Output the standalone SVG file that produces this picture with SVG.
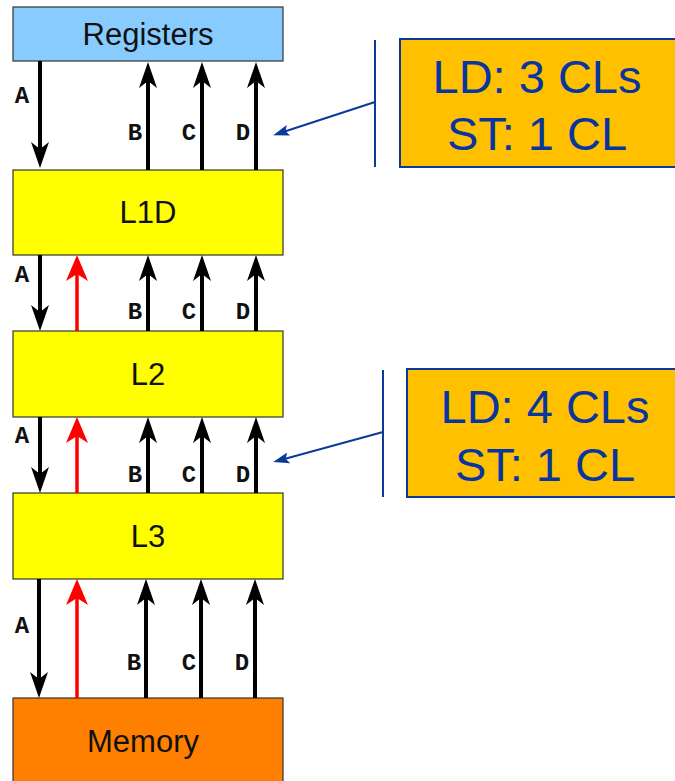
<svg xmlns="http://www.w3.org/2000/svg" width="675" height="781" viewBox="0 0 675 781">
<style>
.box{stroke:#333;stroke-width:1.2}
.name{font-family:"Liberation Sans",Arial,sans-serif;font-size:31px;fill:#111;text-anchor:middle}
.lbl{font-family:"Liberation Mono","Courier New",monospace;font-weight:bold;font-size:24px;fill:#111;text-anchor:middle}
.blk{stroke:#000;stroke-width:4;fill:none;marker-end:url(#hb)}
.red{stroke:#f00;stroke-width:3.5;fill:none;marker-end:url(#hr)}
.call{fill:#FFC000;stroke:#0B3A9A;stroke-width:2}
.ctext{font-family:"Liberation Sans",Arial,sans-serif;font-size:47px;fill:#0835A0;text-anchor:middle}
.bl{stroke:#0B3A9A;stroke-width:2;fill:none}
.ba{stroke:#0B3A9A;stroke-width:2;fill:none;marker-end:url(#hblue)}
</style>
<defs>
<marker id="hb" markerUnits="userSpaceOnUse" viewBox="0 -10 26 20" refX="16" refY="0" markerWidth="26" markerHeight="20" orient="auto"><path d="M0,-9 L26,0 L0,9 L7,0 z" fill="#000"/></marker>
<marker id="hr" markerUnits="userSpaceOnUse" viewBox="0 -12 26 24" refX="16" refY="0" markerWidth="26" markerHeight="24" orient="auto"><path d="M0,-11 L26,0 L0,11 L7,0 z" fill="#f00"/></marker>
<marker id="hblue" markerUnits="userSpaceOnUse" viewBox="0 -6 16 12" refX="12" refY="0" markerWidth="16" markerHeight="12" orient="auto"><path d="M0,-5.5 L16,0 L0,5.5 L3,0 z" fill="#0B3A9A"/></marker>
</defs>

<g id="registers"><rect class="box" x="13" y="7" width="270" height="54" fill="#88CCFF"/><text class="name" x="148" y="45">Registers</text></g>
<g id="l1d"><rect class="box" x="13" y="170" width="270" height="85" fill="#FFFF00"/><text class="name" x="148" y="223">L1D</text></g>
<g id="l2"><rect class="box" x="13" y="331" width="270" height="86" fill="#FFFF00"/><text class="name" x="148" y="385">L2</text></g>
<g id="l3"><rect class="box" x="13" y="493" width="270" height="86" fill="#FFFF00"/><text class="name" x="148" y="547">L3</text></g>
<g id="memory"><rect class="box" x="13" y="698" width="270" height="90" fill="#FF8000"/><text class="name" x="143" y="752">Memory</text></g>

<g id="connectors">
<line class="blk" x1="40" y1="61" x2="40" y2="158"/>
<line class="blk" x1="148" y1="170" x2="148" y2="72"/>
<line class="blk" x1="202" y1="170" x2="202" y2="72"/>
<line class="blk" x1="256" y1="170" x2="256" y2="72"/>

<line class="blk" x1="40" y1="255" x2="40" y2="321"/>
<line class="red" x1="77" y1="331" x2="77" y2="265"/>
<line class="blk" x1="148" y1="331" x2="148" y2="265"/>
<line class="blk" x1="202" y1="331" x2="202" y2="265"/>
<line class="blk" x1="256" y1="331" x2="256" y2="265"/>

<line class="blk" x1="40" y1="417" x2="40" y2="483"/>
<line class="red" x1="77" y1="493" x2="77" y2="427"/>
<line class="blk" x1="148" y1="493" x2="148" y2="427"/>
<line class="blk" x1="202" y1="493" x2="202" y2="427"/>
<line class="blk" x1="256" y1="493" x2="256" y2="427"/>

<line class="blk" x1="39" y1="579" x2="39" y2="688"/>
<line class="red" x1="77" y1="698" x2="77" y2="589"/>
<line class="blk" x1="146" y1="698" x2="146" y2="589"/>
<line class="blk" x1="201" y1="698" x2="201" y2="589"/>
<line class="blk" x1="255" y1="698" x2="255" y2="589"/>

<line class="bl" x1="375" y1="40" x2="375" y2="167"/>
<line class="ba" x1="375" y1="102" x2="277" y2="134"/>
<line class="bl" x1="383" y1="370" x2="383" y2="497"/>
<line class="ba" x1="383" y1="432" x2="277" y2="461"/>
</g>

<g id="labels">
<text class="lbl" x="22" y="103">A</text>
<text class="lbl" x="135" y="140">B</text>
<text class="lbl" x="189" y="140">C</text>
<text class="lbl" x="243" y="140">D</text>
<text class="lbl" x="22" y="282">A</text>
<text class="lbl" x="135" y="319">B</text>
<text class="lbl" x="189" y="319">C</text>
<text class="lbl" x="243" y="319">D</text>
<text class="lbl" x="22" y="443">A</text>
<text class="lbl" x="135" y="482">B</text>
<text class="lbl" x="189" y="482">C</text>
<text class="lbl" x="243" y="482">D</text>
<text class="lbl" x="22" y="633">A</text>
<text class="lbl" x="134" y="670">B</text>
<text class="lbl" x="189" y="670">C</text>
<text class="lbl" x="242" y="670">D</text>
</g>

<g id="callout1"><rect class="call" x="400" y="39" width="290" height="128"/><text class="ctext" x="537" y="93">LD: 3 CLs</text><text class="ctext" x="537" y="150">ST: 1 CL</text></g>
<g id="callout2"><rect class="call" x="407" y="369" width="290" height="128"/><text class="ctext" x="545" y="423">LD: 4 CLs</text><text class="ctext" x="545" y="481">ST: 1 CL</text></g>
</svg>
